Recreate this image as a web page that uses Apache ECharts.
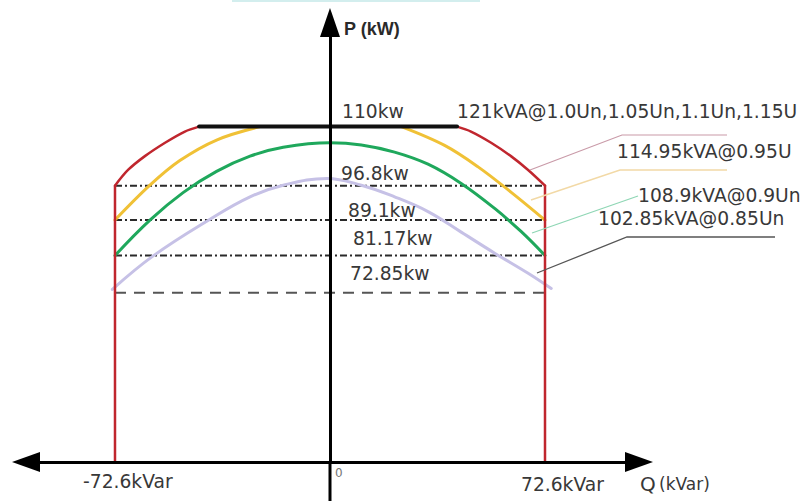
<!DOCTYPE html>
<html>
<head>
<meta charset="utf-8">
<script src="https://cdn.jsdelivr.net/npm/echarts@6.0.0/dist/echarts.min.js"></script>
<style>
  html, body { margin: 0; padding: 0; background: #ffffff; }
  #chart { width: 803px; height: 501px; }
</style>
</head>
<body>
<div id="chart"></div>
<script>
// Reactive-power limit (kvar) and active-power ceiling (kW)
const qLimit = 72.6;
const pCeiling = 110;
// Active power reached at ±72.6 kvar for each apparent-power curve
const cornerLevels = [96.8, 89.1, 81.17, 72.85];
// Curve names (kVA @ voltage)
const curveNames = [
  '121kVA@1.0Un,1.05Un,1.1Un,1.15U',
  '114.95kVA@0.95U',
  '108.9kVA@0.9Un',
  '102.85kVA@0.85Un'
];

// 121 kVA boundary: shoulders on either side of the 110 kW ceiling
const redLeftArc = [[-72.6, 96.8], [-68.2, 100.3], [-62.5, 103.4], [-55.7, 106.4], [-49.0, 108.9], [-44.2, 110]];
const redRightArc = [[42.9, 110], [47.6, 108.9], [54.4, 106.4], [61.1, 103.4], [66.9, 100.3], [72.6, 96.8]];
const redLeftSide = [[-72.6, 35], [-72.6, 96.8]];
const redRightSide = [[72.6, 96.8], [72.6, 35]];
const ceiling = [[-44.2, 110], [42.9, 110]];

// 114.95 kVA curve (cut off by the 110 kW ceiling)
const yellowLeft = [[-72.6, 89.1], [-60.8, 96.9], [-50.7, 102.4], [-38.3, 107.0], [-23.6, 110]];
const yellowRight = [[24.1, 110], [38.7, 105.8], [50.0, 101.0], [61.2, 95.3], [72.6, 89.1]];

// 108.9 kVA curve
const green = [[-72.6, 81.17], [-60.8, 89.1], [-49.5, 95.3], [-38.3, 100.0], [-27.0, 103.4], [-15.8, 105.4],
  [0, 106.4], [10.6, 105.9], [21.8, 104.3], [33.1, 101.6], [44.3, 97.3], [55.6, 91.7], [64.6, 86.5], [72.6, 81.17]];

// 102.85 kVA curve
const lavender = [[-73.5, 73.6], [-59.7, 81.1], [-40.5, 89.3], [-27.0, 94.3], [-15.8, 96.9], [-1.0, 98.4],
  [10.6, 96.9], [21.8, 94.3], [33.1, 91.0], [44.3, 86.4], [55.6, 81.7], [66.9, 77.2], [74.7, 73.8]];

// Q-axis end labels
const qTickLabels = ['-72.6kVar', '72.6kVar'];

const FONT = '"DejaVu Sans", sans-serif';
const TXT = '#383838';

function line(data, color, width, smooth, extra) {
  return Object.assign({
    type: 'line',
    data: data,
    smooth: smooth,
    symbol: 'none',
    clip: false,
    silent: true,
    lineStyle: { color: color, width: width, cap: 'round', join: 'round' },
    z: 3
  }, extra || {});
}

const series = [];
// reference levels at the ±72.6 kvar corners
cornerLevels.forEach(function (v, i) {
  const last = i === cornerLevels.length - 1;
  series.push(line(
    [[-qLimit, v], [last ? 74.5 : qLimit, v]],
    '#2a2a2a', 2, false,
    { z: 1, lineStyle: { color: last ? '#555555' : '#2a2a2a', width: 2, type: last ? [11, 8] : [7, 3, 2, 3] } }
  ));
});
series.push(line(lavender, '#c6c1e6', 3, 0.4));
series.push(line(green, '#1fa85c', 3, 0.4));
series.push(line(yellowLeft, '#f0c136', 3, 0.35));
series.push(line(yellowRight, '#f0c136', 3, 0.35));
series.push(line(redLeftArc, '#c0262e', 2.5, 0.3, { z: 4 }));
series.push(line(redRightArc, '#c0262e', 2.5, 0.3, { z: 4 }));
series.push(line(redLeftSide, '#c0262e', 2.5, false, { z: 4 }));
series.push(line(redRightSide, '#c0262e', 2.5, false, { z: 4 }));
series.push(line(ceiling, '#111111', 4, false, { z: 5 }));
// P axis continues below the Q axis
series.push(line([[0, 35], [0, 26]], '#000000', 3, false, { z: 10 }));

function txt(x, y, text, opts) {
  return {
    type: 'text', x: x, y: y, z: 20, silent: true,
    style: Object.assign({
      text: text, font: '18.7px ' + FONT, fill: TXT,
      textAlign: 'left', textVerticalAlign: 'middle', align: 'left', verticalAlign: 'middle'
    }, opts || {})
  };
}
function leader(points, color, w) {
  return { type: 'polyline', z: 15, silent: true, shape: { points: points }, style: { stroke: color, lineWidth: w, fill: null } };
}

const graphic = [
  { type: 'rect', shape: { x: 232, y: 0, width: 248, height: 2 }, style: { fill: '#d3eeee' }, silent: true },
  txt(344, 29, 'P (kW)', { font: 'bold 18px "Liberation Sans", Arial, sans-serif', fill: '#2a2a2a' }),
  txt(342, 111, pCeiling + 'kw'),
  txt(341, 173.5, cornerLevels[0] + 'kw'),
  txt(348, 210, cornerLevels[1] + 'kw'),
  txt(353, 238.5, cornerLevels[2] + 'kw'),
  txt(350, 273.5, cornerLevels[3] + 'kw'),
  txt(457, 111, curveNames[0]),
  txt(617, 151.5, curveNames[1]),
  txt(638, 195, curveNames[2]),
  txt(598, 218, curveNames[3]),
  txt(83, 481, qTickLabels[0]),
  txt(521, 484, qTickLabels[1]),
  txt(335, 473, '0', { font: '12px ' + FONT, fill: '#777777' }),
  {
    type: 'text', x: 640, y: 484, z: 20, silent: true,
    style: {
      text: '{a|Q} {b|(kVar)}', fill: TXT, textVerticalAlign: 'middle', verticalAlign: 'middle',
      rich: {
        a: { fontSize: 20, fontFamily: FONT, fill: TXT, color: TXT },
        b: { fontSize: 17, fontFamily: FONT, fill: TXT, color: TXT }
      }
    }
  },
  leader([[530, 170], [622, 135], [727, 135]], '#c99aa8', 1.2),
  leader([[531, 200], [620, 170], [727, 170]], '#f2d9a6', 1.5),
  leader([[532, 233], [638, 196]], '#8ed6b4', 1.2),
  leader([[537, 273], [627, 237], [775, 237]], '#555555', 1.3)
];

const chart = echarts.init(document.getElementById('chart'), null, { renderer: 'svg' });
chart.setOption({
  animation: false,
  backgroundColor: '#ffffff',
  grid: { left: 26, right: 164, top: 22.5, bottom: 39, containLabel: false },
  xAxis: {
    type: 'value', min: -102.65, max: 104.34, z: 10,
    axisLine: { show: true, onZero: false, symbol: ['triangle', 'triangle'], symbolSize: [20, 28],
      lineStyle: { color: '#000000', width: 3 } },
    axisTick: { show: false }, axisLabel: { show: false }, splitLine: { show: false }
  },
  yAxis: {
    type: 'value', min: 35, max: 133.28, z: 10,
    axisLine: { show: true, onZero: true, symbol: ['none', 'triangle'], symbolSize: [20, 29],
      lineStyle: { color: '#000000', width: 3 } },
    axisTick: { show: false }, axisLabel: { show: false }, splitLine: { show: false }
  },
  series: series,
  graphic: graphic
});
</script>
</body>
</html>
